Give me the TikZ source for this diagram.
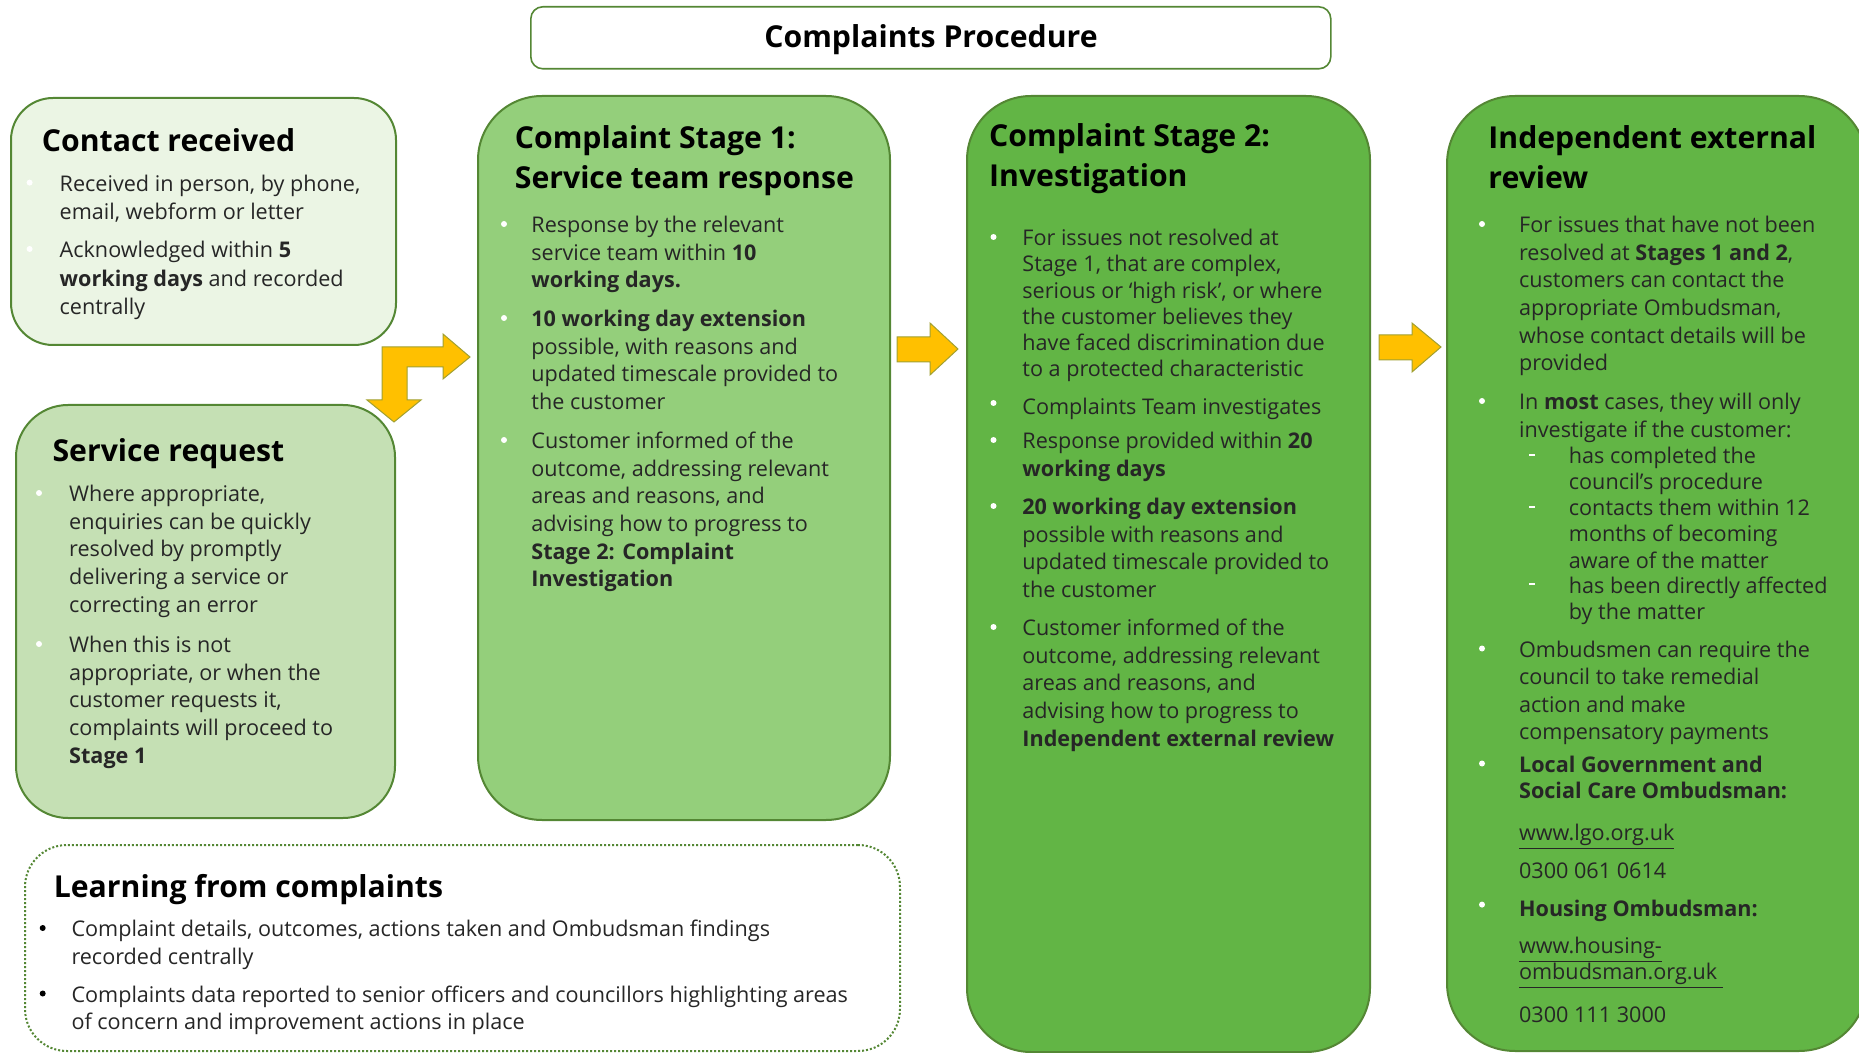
\documentclass[tikz,border=0pt]{standalone}
\usepackage{fontspec}
\setmainfont{Open Sans}
\definecolor{crfill}{RGB}{235,245,228}
\definecolor{srfill}{RGB}{197,224,180}
\definecolor{sonefill}{RGB}{148,207,123}
\definecolor{stwofill}{RGB}{98,181,69}
\definecolor{boxline}{RGB}{84,135,52}
\definecolor{arrfill}{RGB}{255,192,0}
\definecolor{arrline}{RGB}{160,160,50}
\definecolor{txt}{RGB}{38,38,38}
\tikzset{
  box/.style={draw=boxline, line width=1pt, inner sep=0pt, anchor=north west},
  head/.style={anchor=north west, align=left, inner sep=0pt, yshift=7.6pt,
    font=\fontsize{15.1}{20}\selectfont\bfseries, execute at begin node=\strut},
  body/.style={anchor=north west, align=left, inner sep=0pt, yshift=4.1pt, text=txt,
    font=\fontsize{10.8}{13.8}\selectfont, execute at begin node=\strut},
  wide/.style={font=\fontsize{10.8}{14.2}\selectfont},
  tight/.style={font=\fontsize{10.8}{13.1}\selectfont},
  dot/.style={circle, fill=white, inner sep=0pt, minimum size=3pt},
  blackdot/.style={dot, fill=black},
  dashmark/.style={fill=white, inner sep=0pt, minimum width=3pt, minimum height=1pt},
  blockarrow/.style={fill=arrfill, draw=arrline, line width=0.5pt, line join=miter},
}
\begin{document}
\begin{tikzpicture}[x=0.5pt, y=-0.5pt]
    \useasboundingbox (0,0) rectangle (1859,1053);
    \clip (0,0) rectangle (1859,1053);

    % boxes
    \node[box, fill=white, line width=0.8pt, rounded corners=6pt, minimum width=400pt, minimum height=31pt] (title) at (530,6) {};
    \node[box, fill=crfill, rounded corners=21pt, minimum width=192.5pt, minimum height=123.5pt] (contact) at (10,97) {};
    \node[box, fill=srfill, rounded corners=26pt, minimum width=189.5pt, minimum height=206.5pt] (service) at (15,404) {};
    \node[box, fill=sonefill, rounded corners=32pt, minimum width=206pt, minimum height=362pt] (stageone) at (477,95) {};
    \node[box, fill=stwofill, rounded corners=32pt, minimum width=201.5pt, minimum height=478pt] (stagetwo) at (966,95) {};
    \node[box, fill=stwofill, rounded corners=34pt, minimum width=210pt, minimum height=477.5pt] (indep) at (1446,95) {};
    \node[box, fill=white, densely dotted, rounded corners=21pt, minimum width=437.5pt, minimum height=103pt] (learning) at (24,844) {};

    % arrows
    \draw[blockarrow] (382,400) -- (382,347) -- (443,347) -- (443,334) -- (470,357)
        -- (443,379) -- (443,367) -- (407,367) -- (407,400) -- (421,400)
        -- (394,422) -- (367,400) -- cycle;
    \draw[blockarrow] (897,337) -- (930,337) -- (930,323) -- (958,349) -- (930,375)
        -- (930,362) -- (897,362) -- cycle;
    \draw[blockarrow] (1379,335) -- (1412,335) -- (1412,323) -- (1441,347) -- (1412,372)
        -- (1412,360) -- (1379,360) -- cycle;

    % title
    \node[font=\fontsize{15.1}{20}\selectfont\bfseries, inner sep=0pt] (ttl) at (931,40) {Complaints Procedure};

    % contact received
    \node[head] (crh) at (41.5,138.7) {Contact received};
    \node[dot] (crb1) at (29.6,182.6) {};
    \node[body, wide] (crt1) at (59.3,182.6) {Received in person, by phone,\\email, webform or letter};
    \node[dot] (crb2) at (29.6,249) {};
    \node[body, wide] (crt2) at (59.3,249) {Acknowledged within \textbf{5}\\\textbf{working days} and recorded\\centrally};

    % service request
    \node[head] (srh) at (52.2,448) {Service request};
    \node[dot] (srb1) at (39,493) {};
    \node[body] (srt1) at (68.8,493) {Where appropriate,\\enquiries can be quickly\\resolved by promptly\\delivering a service or\\correcting an error};
    \node[dot] (srb2) at (39,644) {};
    \node[body] (srt2) at (68.8,644) {When this is not\\appropriate, or when the\\customer requests it,\\complaints will proceed to\\\textbf{Stage 1}};

    % stage 1
    \node[head] (s1h) at (514.5,140) {Complaint Stage 1:\\Service team response};
    \node[dot] (s1b1) at (504,224) {};
    \node[body] (s1t1) at (531,224) {Response by the relevant\\service team within \textbf{10}\\\textbf{working days.}};
    \node[dot] (s1b2) at (504,318) {};
    \node[body] (s1t2) at (531,318) {\textbf{10 working day extension}\\possible, with reasons and\\updated timescale provided to\\the customer};
    \node[dot] (s1b3) at (504,440) {};
    \node[body] (s1t3) at (531,440) {Customer informed of the\\outcome, addressing relevant\\areas and reasons, and\\advising how to progress to\\\textbf{Stage 2: Complaint}\\\textbf{Investigation}};

    % stage 2
    \node[head] (s2h) at (988.8,138.7) {Complaint Stage 2:\\Investigation};
    \node[dot] (s2b1) at (993.5,237) {};
    \node[body, tight] (s2t1) at (1022,237) {For issues not resolved at\\Stage 1, that are complex,\\serious or ‘high risk’, or where\\the customer believes they\\have faced discrimination due\\to a protected characteristic};
    \node[dot] (s2b2) at (993.5,403) {};
    \node[body] (s2t2) at (1022,403) {Complaints Team investigates};
    \node[dot] (s2b3) at (993.5,440) {};
    \node[body] (s2t3) at (1022,440) {Response provided within \textbf{20}\\\textbf{working days}};
    \node[dot] (s2b4) at (993.5,506) {};
    \node[body] (s2t4) at (1022,506) {\textbf{20 working day extension}\\possible with reasons and\\updated timescale provided to\\the customer};
    \node[dot] (s2b5) at (993.5,627) {};
    \node[body] (s2t5) at (1022,627) {Customer informed of the\\outcome, addressing relevant\\areas and reasons, and\\advising how to progress to\\\textbf{Independent external review}};

    % independent review
    \node[head] (irh) at (1488,140) {Independent external\\review};
    \node[dot] (irb1) at (1482,224) {};
    \node[body] (irt1) at (1518.7,224) {For issues that have not been\\resolved at \textbf{Stages 1 and 2},\\customers can contact the\\appropriate Ombudsman,\\whose contact details will be\\provided};
    \node[dot] (irb2) at (1482,401) {};
    \node[body] (irt2) at (1518.7,401) {In \textbf{most} cases, they will only\\investigate if the customer:};
    \node[dashmark] (ird1) at (1532,455) {};
    \node[body, tight] (irs1) at (1568.5,455) {has completed the\\council’s procedure};
    \node[dashmark] (ird2) at (1532,507) {};
    \node[body, tight] (irs2) at (1568.5,507) {contacts them within 12\\months of becoming\\aware of the matter};
    \node[dashmark] (ird3) at (1532,584.5) {};
    \node[body, tight] (irs3) at (1568.5,584.5) {has been directly affected\\by the matter};
    \node[dot] (irb3) at (1482,648.5) {};
    \node[body] (irt3) at (1518.7,648.5) {Ombudsmen can require the\\council to take remedial\\action and make\\compensatory payments};
    \node[dot] (irb4) at (1482,763.5) {};
    \node[body, tight] (irt4) at (1518.7,763.5) {\textbf{Local Government and}\\\textbf{Social Care Ombudsman:}};
    \node[body] (irt5) at (1518.7,829) {\underline{www.lgo.org.uk}};
    \node[body] (irt6) at (1518.7,867) {0300 061 0614};
    \node[dot] (irb5) at (1482,904.6) {};
    \node[body] (irt7) at (1518.7,904.6) {\textbf{Housing Ombudsman:}};
    \node[body, tight] (irt8) at (1518.7,945) {\underline{www.housing-}\\\underline{ombudsman.org.uk\ }};
    \node[body] (irt9) at (1518.7,1011) {0300 111 3000};

    % learning from complaints
    \node[head] (lch) at (53.4,884.5) {Learning from complaints};
    \node[blackdot] (lcb1) at (42.7,928) {};
    \node[body] (lct1) at (71.1,928) {Complaint details, outcomes, actions taken and Ombudsman findings\\recorded centrally};
    \node[blackdot] (lcb2) at (42.7,993.5) {};
    \node[body] (lct2) at (71.1,993.5) {Complaints data reported to senior officers and councillors highlighting areas\\of concern and improvement actions in place};
\end{tikzpicture}
\end{document}
